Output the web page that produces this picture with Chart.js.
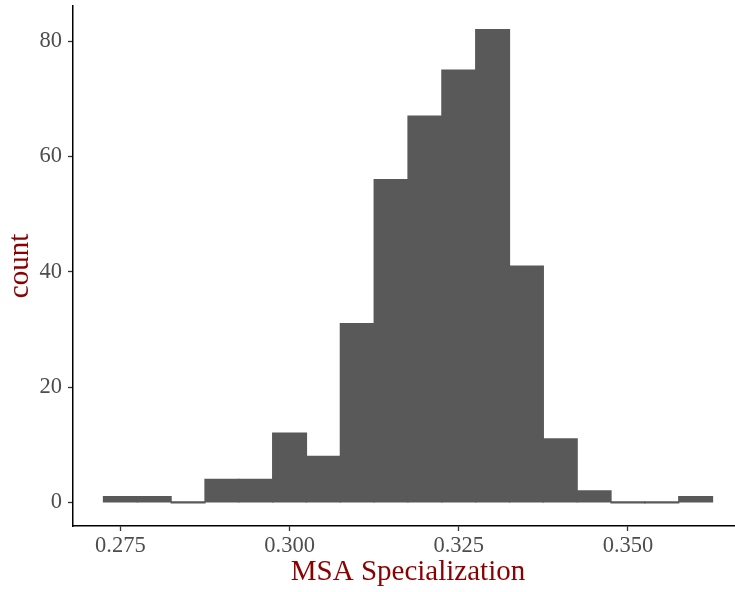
<!DOCTYPE html>
<html>
<head>
<meta charset="utf-8">
<script src="https://cdn.jsdelivr.net/npm/chart.js@4"></script>
<style>
  html, body { margin: 0; padding: 0; overflow: hidden; background: #fff; }
  #wrap { width: 743px; height: 592px; }
</style>
</head>
<body>
<div id="wrap"><canvas id="c"></canvas></div>
<script>
const binCenters = [0.275, 0.280, 0.285, 0.290, 0.295, 0.300, 0.305, 0.310, 0.315, 0.320, 0.325, 0.330, 0.335, 0.340, 0.345, 0.350, 0.355, 0.360];
const counts     = [1, 1, 0, 4, 4, 12, 8, 31, 56, 67, 75, 82, 41, 11, 2, 0, 0, 1];
const xTicks = [0.275, 0.300, 0.325, 0.350];
const yTicks = [0, 20, 40, 60, 80];
const xTitle = 'MSA Specialization';
const yTitle = 'count';

const serif = "'Liberation Serif', 'Times New Roman', serif";
const tickColor = '#4D4D4D';
const titleColor = '#8B0000';

new Chart(document.getElementById('c'), {
  type: 'bar',
  data: {
    datasets: [{
      data: binCenters.map((x, i) => ({ x: x, y: counts[i] })),
      backgroundColor: '#595959',
      borderWidth: 0,
      inflateAmount: 0.6,
      barPercentage: 1,
      categoryPercentage: 1,
      minBarLength: 1
    }]
  },
  options: {
    responsive: true,
    maintainAspectRatio: false,
    animation: false,
    layout: { padding: { top: 6, right: 0, left: 0, bottom: 0 } },
    plugins: { legend: { display: false }, tooltip: { enabled: false } },
    scales: {
      x: {
        type: 'linear',
        min: 0.268,
        max: 0.367,
        offset: false,
        afterBuildTicks: s => { s.ticks = xTicks.map(v => ({ value: v })); },
        afterFit: s => { s.height = 66; s.paddingLeft = 0; s.paddingRight = 0; },
        ticks: {
          color: tickColor,
          font: { family: serif, size: 22.5 },
          padding: 2,
          maxRotation: 0,
          callback: v => v.toFixed(3)
        },
        grid: { offset: false, drawOnChartArea: false, drawTicks: true, tickLength: 5, tickColor: '#333333', tickWidth: 1.3 },
        border: { display: true, color: '#000000', width: 1.5 },
        title: {
          display: true, text: xTitle, color: titleColor,
          font: { family: serif, size: 29 },
          padding: { top: 0, bottom: 2 }
        }
      },
      y: {
        min: -4.1,
        max: 86.1,
        afterBuildTicks: s => { s.ticks = yTicks.map(v => ({ value: v })); },
        afterFit: s => { s.width = 73; s.paddingTop = 0; s.paddingBottom = 0; },
        ticks: {
          color: tickColor,
          font: { family: serif, size: 22.5 },
          padding: 6
        },
        grid: { drawOnChartArea: false, drawTicks: true, tickLength: 5, tickColor: '#333333', tickWidth: 1.3 },
        border: { display: true, color: '#000000', width: 1.5 },
        title: {
          display: true, text: yTitle, color: titleColor,
          font: { family: serif, size: 29 },
          padding: { top: 3, bottom: 0 }
        }
      }
    }
  }
});
</script>
</body>
</html>
